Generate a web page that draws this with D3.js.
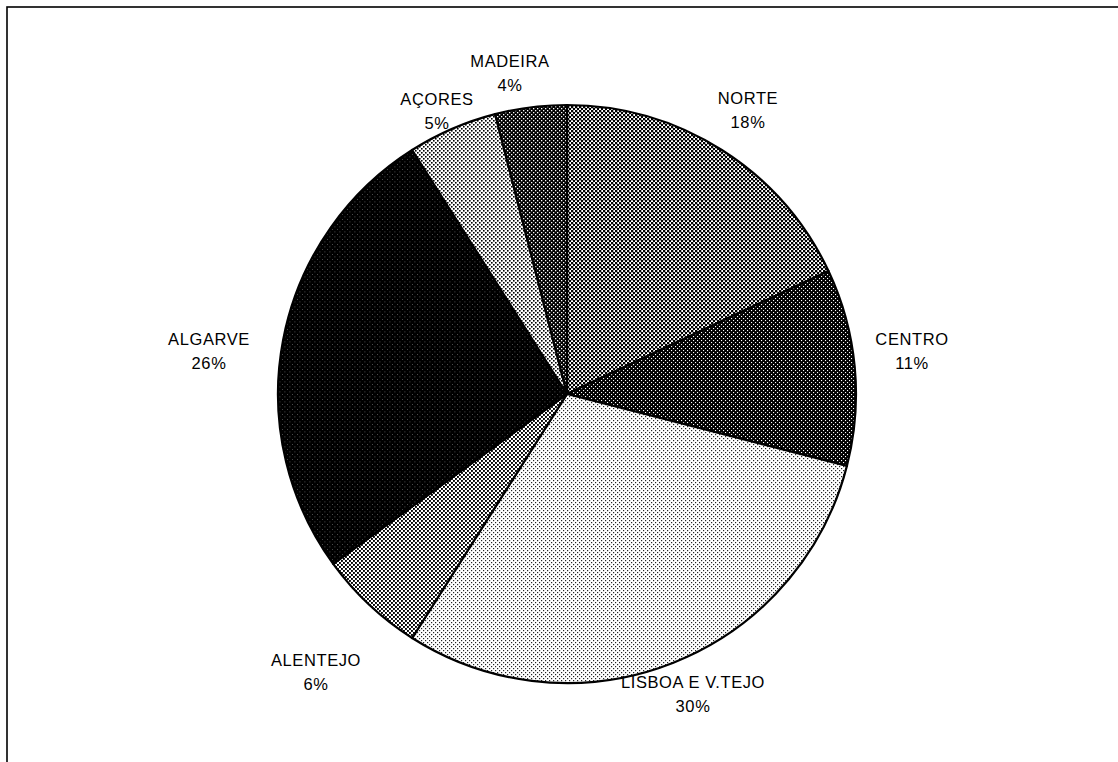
<!DOCTYPE html>
<html>
<head>
<meta charset="utf-8">
<script src="https://cdn.jsdelivr.net/npm/d3@7"></script>
<style>
  html, body { margin: 0; padding: 0; background: #fff; }
  svg { display: block; }
  text { font-family: "Liberation Sans", Arial, sans-serif; font-size: 16.5px; letter-spacing: 0.6px; fill: #000; }
</style>
</head>
<body>
<svg id="chart" width="1118" height="762"></svg>
<script>
// regions, clockwise from 12 o'clock
const regions = ['NORTE', 'CENTRO', 'LISBOA E V.TEJO', 'ALENTEJO', 'ALGARVE', 'AÇORES', 'MADEIRA'];
const shares = [18, 11, 30, 6, 26, 5, 4];
const labelPos = [
  [748, 104], [912, 345], [693, 688], [316, 666], [209, 345], [437, 105], [510, 67],
];

const width = 1118;
const height = 762;
const cx = 567;
const cy = 394;
const radius = 289;

const svg = d3.select('#chart');
const defs = svg.append('defs');

// halftone-ish fills, one per slice
const fills = [
  { bg: '#fff', dot: '#000', size: 4, d: 2.3 },  // NORTE
  { bg: '#000', dot: '#fff', size: 4, d: 1.1 },  // CENTRO
  { bg: '#fff', dot: '#222', size: 4, d: 1.2 },  // LISBOA
  { bg: '#fff', dot: '#000', size: 4, d: 1.9 },  // ALENTEJO
  { bg: '#000', dot: '#777', size: 5, d: 0.8 },  // ALGARVE
  { bg: '#fff', dot: '#000', size: 4, d: 1.6 },  // AÇORES
  { bg: '#000', dot: '#fff', size: 4, d: 1.3 },  // MADEIRA
];

fills.forEach((f, i) => {
  const p = defs.append('pattern')
    .attr('id', `fill${i}`)
    .attr('patternUnits', 'userSpaceOnUse')
    .attr('width', f.size)
    .attr('height', f.size);
  p.append('rect').attr('width', f.size).attr('height', f.size).attr('fill', f.bg);
  p.append('rect').attr('x', 0).attr('y', 0).attr('width', f.d).attr('height', f.d).attr('fill', f.dot);
  p.append('rect').attr('x', f.size / 2).attr('y', f.size / 2).attr('width', f.d).attr('height', f.d).attr('fill', f.dot);
});

// frame (runs off the right and bottom of the page)
svg.append('rect')
  .attr('x', 7).attr('y', 7)
  .attr('width', width + 50).attr('height', height + 50)
  .attr('fill', 'none')
  .attr('stroke', '#000')
  .attr('stroke-width', 1.6);

const pie = d3.pie().sort(null).value(d => d);
const arc = d3.arc().innerRadius(0).outerRadius(radius);

const g = svg.append('g').attr('transform', `translate(${cx},${cy})`);

g.selectAll('path')
  .data(pie(shares))
  .join('path')
  .attr('d', arc)
  .attr('fill', (d, i) => `url(#fill${i})`)
  .attr('stroke', '#000')
  .attr('stroke-width', 2.2)
  .attr('stroke-linejoin', 'round');

const labels = svg.append('g');
regions.forEach((name, i) => {
  const [x, y] = labelPos[i];
  const t = labels.append('text')
    .attr('text-anchor', 'middle')
    .attr('x', x)
    .attr('y', y);
  t.append('tspan').attr('x', x).text(name);
  t.append('tspan').attr('x', x).attr('dy', 24).text(`${shares[i]}%`);
});
</script>
</body>
</html>
